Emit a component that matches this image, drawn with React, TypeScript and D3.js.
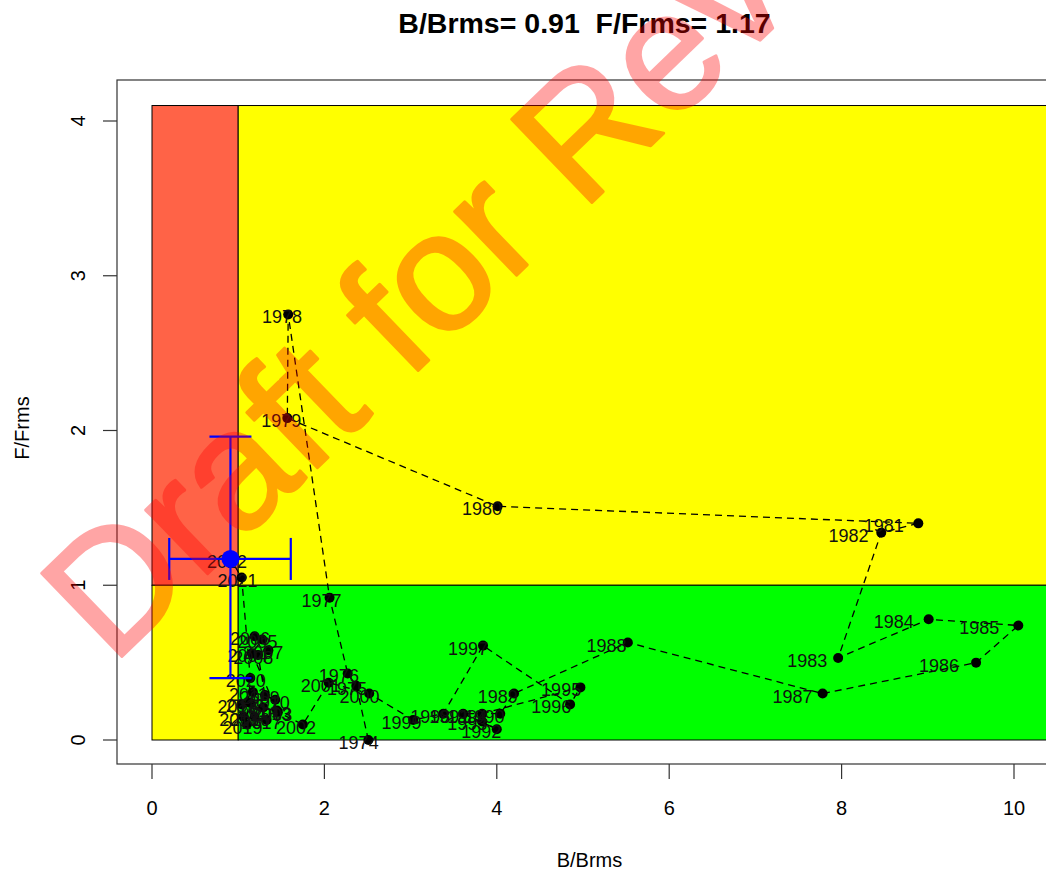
import React from "react";
import * as d3 from "d3";

// ---- data ----
const years = [
  1974, 1975, 1976, 1977, 1978, 1979, 1980, 1981, 1982, 1983, 1984, 1985, 1986,
  1987, 1988, 1989, 1990, 1991, 1992, 1993, 1994, 1995, 1996, 1997, 1998, 1999,
  2000, 2001, 2002, 2003, 2004, 2005, 2006, 2007, 2008, 2009, 2010, 2011, 2012,
  2013, 2014, 2015, 2016, 2017, 2018, 2019, 2020, 2021, 2022,
];
const bRatio = [
  2.51, 2.37, 2.27, 2.06, 1.58, 1.57, 4.01, 8.89, 8.46, 7.96, 9.01, 10.05, 9.56,
  7.78, 5.52, 4.2, 4.04, 3.61, 4.0, 3.83, 3.83, 4.97, 4.85, 3.84, 3.38, 3.03,
  2.52, 2.05, 1.75, 1.46, 1.16, 1.28, 1.19, 1.35, 1.23, 1.31, 1.43, 1.17, 1.04,
  1.45, 1.29, 1.14, 1.19, 1.33, 1.06, 1.1, 1.14, 1.04, 0.91,
];
const fRatio = [
  0.0, 0.35, 0.43, 0.92, 2.75, 2.08, 1.51, 1.4, 1.34, 0.53, 0.78, 0.74, 0.5,
  0.3, 0.63, 0.3, 0.17, 0.17, 0.07, 0.12, 0.17, 0.34, 0.23, 0.61, 0.17, 0.13,
  0.3, 0.37, 0.1, 0.18, 0.56, 0.65, 0.67, 0.58, 0.55, 0.29, 0.26, 0.31, 0.23,
  0.19, 0.21, 0.24, 0.15, 0.13, 0.15, 0.1, 0.4, 1.05, 1.17,
];
const currentB = 0.91;
const currentF = 1.17;
const bInterval = [0.2, 1.61];
const fInterval = [0.4, 1.96];
const xTicks = [0, 2, 4, 6, 8, 10];
const yTicks = [0, 1, 2, 3, 4];
const yTop = 4.1;
const titleText = `B/Brms= ${currentB.toFixed(2)}  F/Frms= ${currentF.toFixed(2)}`;
const watermark = "Draft for Review";

const W = 1046;
const H = 871;
const FONT = "'Liberation Sans', Arial, Helvetica, sans-serif";

export default function App() {
  const x = d3.scaleLinear().domain([0, 10]).range([152, 1014]);
  const y = d3.scaleLinear().domain([0, 4]).range([740, 121]);
  const xMin = x.invert(117);
  const xMax = x.invert(1062);
  const yMin = y.invert(764);
  const yMax = y.invert(80);
  const boxL = x(xMin), boxR = x(xMax), boxT = y(yMax), boxB = y(yMin);

  const pts = years.map((yr, i) => ({ yr, b: bRatio[i], f: fRatio[i] }));
  const line = d3
    .line<{ b: number; f: number }>()
    .x((d) => x(d.b))
    .y((d) => y(d.f));

  const capH = 21;

  return (
    <div style={{ position: "absolute", left: 0, top: 0 }}>
      <svg width={W} height={H} style={{ display: "block", background: "#fff" }}>
        <defs>
          <clipPath id="plotclip">
            <rect x={boxL} y={boxT} width={boxR - boxL} height={boxB - boxT} />
          </clipPath>
        </defs>
        <g clipPath="url(#plotclip)">
          {/* zones */}
          <rect x={x(0)} y={y(yTop)} width={x(1) - x(0)} height={y(1) - y(yTop)} fill="#FF6347" stroke="#000" strokeWidth={1} />
          <rect x={x(1)} y={y(yTop)} width={x(xMax + 1) - x(1)} height={y(1) - y(yTop)} fill="#FFFF00" stroke="#000" strokeWidth={1} />
          <rect x={x(0)} y={y(1)} width={x(1) - x(0)} height={y(0) - y(1)} fill="#FFFF00" stroke="#000" strokeWidth={1} />
          <rect x={x(1)} y={y(1)} width={x(xMax + 1) - x(1)} height={y(0) - y(1)} fill="#00FF00" stroke="#000" strokeWidth={1} />

          {/* trajectory */}
          <path d={line(pts) || ""} fill="none" stroke="#000" strokeWidth={1.3} strokeDasharray="7,5" />
          {pts.map((p) => (
            <circle key={p.yr} cx={x(p.b)} cy={y(p.f)} r={5} fill="#000" />
          ))}
          {pts.map((p) => (
            <text
              key={"l" + p.yr}
              x={x(p.b * 0.955)}
              y={y(p.f) + 3}
              textAnchor="middle"
              dominantBaseline="central"
              fontFamily={FONT}
              fontSize={18}
              fill="#111"
            >
              {p.yr}
            </text>
          ))}

          {/* current status with intervals */}
          <g stroke="#0000FF" strokeWidth={2.2} fill="none">
            <line x1={x(bInterval[0])} x2={x(bInterval[1])} y1={y(currentF)} y2={y(currentF)} />
            <line x1={x(bInterval[0])} x2={x(bInterval[0])} y1={y(currentF) - capH} y2={y(currentF) + capH} />
            <line x1={x(bInterval[1])} x2={x(bInterval[1])} y1={y(currentF) - capH} y2={y(currentF) + capH} />
            <line x1={x(currentB)} x2={x(currentB)} y1={y(fInterval[0])} y2={y(fInterval[1])} />
            <line x1={x(currentB) - capH} x2={x(currentB) + capH} y1={y(fInterval[0])} y2={y(fInterval[0])} />
            <line x1={x(currentB) - capH} x2={x(currentB) + capH} y1={y(fInterval[1])} y2={y(fInterval[1])} />
          </g>
          <circle cx={x(currentB)} cy={y(currentF)} r={9} fill="#0000FF" />
        </g>

        {/* box */}
        <rect x={boxL} y={boxT} width={boxR - boxL} height={boxB - boxT} fill="none" stroke="#333" strokeWidth={1.2} />

        {/* x axis */}
        {xTicks.map((t) => (
          <g key={"x" + t}>
            <line x1={x(t)} x2={x(t)} y1={boxB} y2={boxB + 15} stroke="#333" strokeWidth={1.2} />
            <text x={x(t)} y={808} textAnchor="middle" dominantBaseline="central" fontFamily={FONT} fontSize={20} fill="#000">
              {t}
            </text>
          </g>
        ))}
        {/* y axis */}
        {yTicks.map((t) => (
          <g key={"y" + t}>
            <line x1={boxL - 14} x2={boxL} y1={y(t)} y2={y(t)} stroke="#333" strokeWidth={1.2} />
            <text
              transform={`translate(${78},${y(t)}) rotate(-90)`}
              textAnchor="middle"
              dominantBaseline="central"
              fontFamily={FONT}
              fontSize={20}
              fill="#000"
            >
              {t}
            </text>
          </g>
        ))}

        <text x={(boxL + boxR) / 2} y={860} textAnchor="middle" dominantBaseline="central" fontFamily={FONT} fontSize={20} fill="#000">
          B/Brms
        </text>
        <text
          transform={`translate(${22},${(boxT + boxB) / 2 + 6}) rotate(-90)`}
          textAnchor="middle"
          dominantBaseline="central"
          fontFamily={FONT}
          fontSize={20}
          fill="#000"
        >
          F/Frms
        </text>
        <text
          x={(boxL + boxR) / 2 - 5}
          y={23}
          textAnchor="middle"
          dominantBaseline="central"
          fontFamily={FONT}
          fontSize={28.5}
          fontWeight="bold"
          fill="#000"
          style={{ whiteSpace: "pre" }}
        >
          {titleText}
        </text>

        {/* watermark */}
        <g opacity={0.35}>
          <text
            transform="translate(112,666) rotate(-44)"
            textAnchor="start"
            fontFamily={FONT}
            fontSize={168}
            fill="#FF0000"
            stroke="#FF0000"
            strokeWidth={3}
            strokeLinejoin="round"
            strokeLinecap="round"
          >
            {watermark}
          </text>
        </g>
      </svg>
    </div>
  );
}
